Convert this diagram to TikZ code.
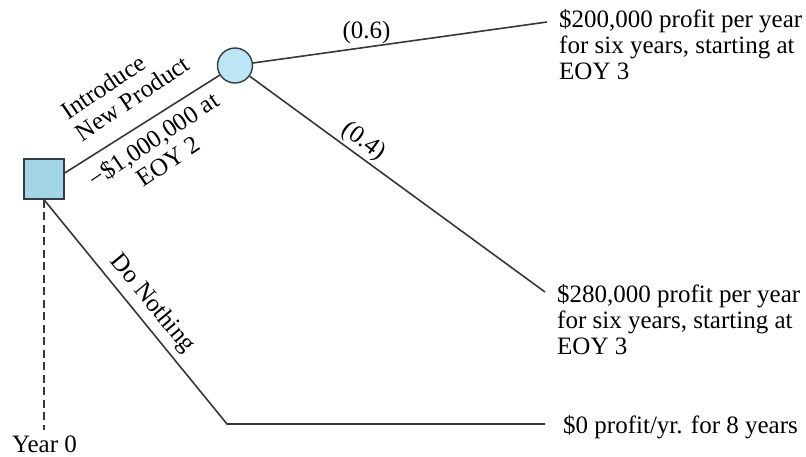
\documentclass[tikz,border=0pt]{standalone}
\usepackage{fontspec}
\setmainfont{Liberation Serif}
\definecolor{linec}{RGB}{55,55,55}
\definecolor{edgec}{RGB}{50,60,65}
\definecolor{sqfill}{RGB}{162,214,230}
\definecolor{cifill}{RGB}{188,230,246}
\begin{document}
\begin{tikzpicture}[x=1pt,y=-1pt,
  every node/.style={font=\fontsize{25}{26}\selectfont},
  link/.style={draw=linec, line width=1.6pt},
  guide/.style={draw=linec, line width=1.4pt, dash pattern=on 8pt off 4.5pt},
  decision/.style={draw=edgec, line width=1.4pt, fill=sqfill, minimum size=40pt, inner sep=0pt},
  chance/.style={circle, draw=edgec, line width=1.4pt, fill=cifill, minimum size=35pt, inner sep=0pt},
  lbl/.style={inner sep=0pt},
  outcome/.style={inner sep=0pt, anchor=base west, align=left}]
\useasboundingbox (0,0) rectangle (806,456);
\node[decision] (dec) at (44,179) {};
\node[chance] (ch) at (235,65.5) {};
\coordinate (e1) at (547,22);
\coordinate (e2) at (545,292);
\coordinate (e3) at (545,424);
\coordinate (bend) at (227,424);
\coordinate (yr) at (44,430);
\draw[link] ([yshift=6pt]dec.east) -- (ch);
\draw[link] (ch) -- (e1);
\draw[link] (ch) -- (e2);
\draw[link] (dec.south) -- (bend) -- (e3);
\draw[guide] (dec.south) -- (yr);
\node[outcome] (o1) at (559,79) {\$200,000 profit per year\\for six years, starting at\\EOY 3};
\node[outcome] (o2) at (557,354) {\$280,000 profit per year\\for six years, starting at\\EOY 3};
\node[outcome] (o3) at (563,433) {\$0 profit/yr. for 8 years};
\node[lbl, anchor=base] (y0) at (44.5,452) {Year 0};
\node[lbl, rotate=34, align=left] (intro) at (125,87.5) {Introduce\\New Product};
\node[lbl, rotate=34, align=center] (cost) at (160.5,150) {−\$1,000,000 at\\EOY 2};
\node[lbl, rotate=-50.5] (dn) at (152,304) {Do Nothing};
\node[lbl] (p6) at (366.5,32) {(0.6)};
\node[lbl, rotate=-36] (p4) at (363.5,141.5) {(0.4)};
\end{tikzpicture}
\end{document}
